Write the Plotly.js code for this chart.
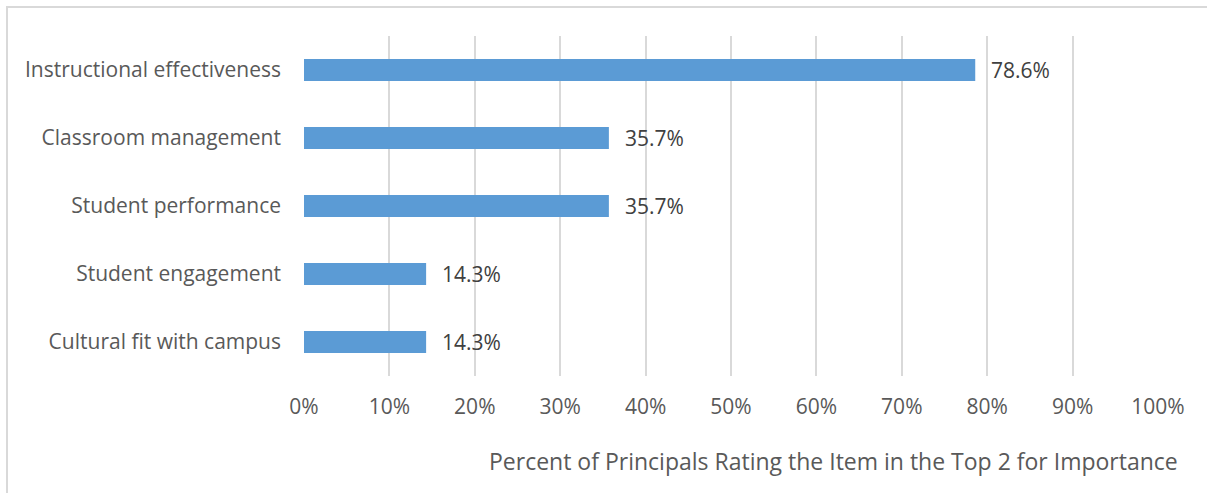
<!DOCTYPE html>
<html><head><meta charset="utf-8">
<script src="https://cdn.plot.ly/plotly-3.0.1.min.js"></script>
<style>
html,body{margin:0;padding:0;overflow:hidden;background:#fff;}
#chart{width:1207px;height:493px;}
#frame{position:absolute;left:6px;top:6px;width:1400px;height:700px;border:2px solid #d9d9d9;pointer-events:none;}
</style></head>
<body>
<div id="chart"></div>
<div id="frame"></div>
<script>
const categories = ["Instructional effectiveness","Classroom management","Student performance","Student engagement","Cultural fit with campus"];
const values = [0.786, 0.357, 0.357, 0.143, 0.143];
const valueLabels = ["78.6%","35.7%","35.7%","14.3%","14.3%"];
const tickVals = [0,0.1,0.2,0.3,0.4,0.5,0.6,0.7,0.8,0.9,1.0];
const tickLabels = ["0%","10%","20%","30%","40%","50%","60%","70%","80%","90%","100%"];
const axisTitle = "Percent of Principals Rating the Item in the Top 2 for Importance";

const FONT = "Open Sans, sans-serif";
const COLOR = "#595959";

const trace = {
  type: "bar", orientation: "h",
  x: values, y: categories,
  marker: {color: "#5b9bd5"},
  hoverinfo: "skip"
};

const annotations = values.map((v,i)=>({
  x: v, y: categories[i], xref: "x", yref: "y",
  text: valueLabels[i], showarrow: false, xanchor: "left", yanchor: "middle",
  xshift: 14, font: {family: FONT, size: 21, color: "#404040"}
}));
const W = 1207, H = 493, L = 303.5, R = 49, T = 36, B = 117;
const pw = W - L - R, ph = H - T - B;
annotations.push({
  xref: "paper", yref: "paper",
  x: (1180 - L) / pw, y: (H - B - 461) / ph,
  xanchor: "right", yanchor: "middle", showarrow: false,
  text: axisTitle, font: {family: FONT, size: 23, color: COLOR}
});

const layout = {
  width: W, height: H,
  margin: {l: L, r: R, t: T, b: B, pad: 0},
  paper_bgcolor: "#fff", plot_bgcolor: "#fff",
  showlegend: false,
  bargap: 0.68,
  xaxis: {
    range: [0, 1], tickvals: tickVals, ticktext: tickLabels,
    showgrid: true, gridcolor: "#d9d9d9", gridwidth: 2,
    zeroline: false, showline: false, ticks: "", ticklabelstandoff: 16,
    tickfont: {family: FONT, size: 21, color: COLOR}, fixedrange: true
  },
  yaxis: {
    categoryorder: "array", categoryarray: categories.slice().reverse(),
    autorange: true, showgrid: false, zeroline: false, showline: false,
    ticks: "", ticklabelstandoff: 22,
    tickfont: {family: FONT, size: 21, color: COLOR}, fixedrange: true
  },
  annotations: annotations,
  font: {family: FONT, color: COLOR}
};

Plotly.newPlot("chart", [trace], layout, {displayModeBar: false, staticPlot: true});
</script>
</body></html>
